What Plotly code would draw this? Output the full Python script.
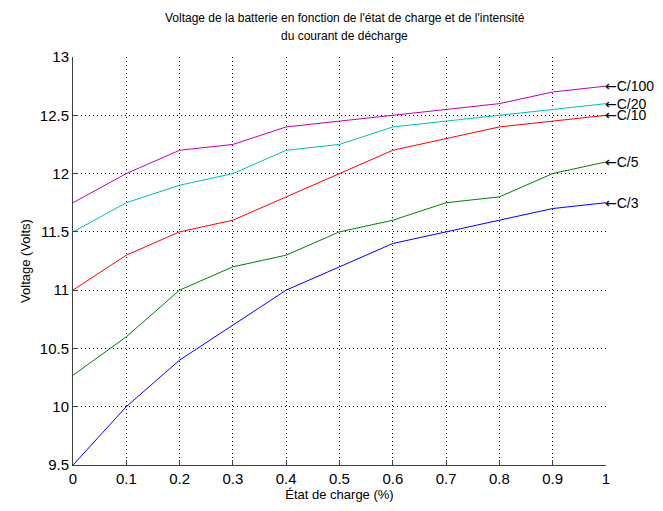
import plotly.graph_objects as go

soc = [0, 0.1, 0.2, 0.3, 0.4, 0.5, 0.6, 0.7, 0.8, 0.9, 1.0]
v_c3 = [9.5, 10.0, 10.4, 10.7, 11.0, 11.2, 11.4, 11.5, 11.6, 11.7, 11.75]
v_c5 = [10.27, 10.6, 11.0, 11.2, 11.3, 11.5, 11.6, 11.75, 11.8, 12.0, 12.1]
v_c10 = [11.0, 11.3, 11.5, 11.6, 11.8, 12.0, 12.2, 12.3, 12.4, 12.45, 12.5]
v_c20 = [11.5, 11.75, 11.9, 12.0, 12.2, 12.25, 12.4, 12.45, 12.5, 12.55, 12.6]
v_c100 = [11.75, 12.0, 12.2, 12.25, 12.4, 12.45, 12.5, 12.55, 12.6, 12.7, 12.75]

series = [
    ("C/3", v_c3, "#0000FF"),
    ("C/5", v_c5, "#008000"),
    ("C/10", v_c10, "#FF0000"),
    ("C/20", v_c20, "#00BFBF"),
    ("C/100", v_c100, "#BF00BF"),
]

x_ticks = [0, 0.1, 0.2, 0.3, 0.4, 0.5, 0.6, 0.7, 0.8, 0.9, 1]
x_tick_text = ["0", "0.1", "0.2", "0.3", "0.4", "0.5", "0.6", "0.7", "0.8", "0.9", "1"]
y_ticks = [9.5, 10, 10.5, 11, 11.5, 12, 12.5, 13]
y_tick_text = ["9.5", "10", "10.5", "11", "11.5", "12", "12.5", "13"]

title_lines = ["Voltage de la batterie en fonction de l'état de charge et de l'intensité",
               "du courant de décharge"]

FONT = "Liberation Sans, Arial, sans-serif"
AXC = "#404040"

fig = go.Figure()
for name, vals, col in series:
    fig.add_trace(go.Scatter(x=soc, y=vals, mode="lines", name=name,
                             line=dict(color=col, width=1), showlegend=False))
    fig.add_annotation(x=soc[-1], y=vals[-1], xref="x", yref="y",
                       text="<span style='font-family:DejaVu Sans'>\u2190</span>" + name,
                       showarrow=False, xanchor="left", yanchor="middle", xshift=-3,
                       font=dict(family=FONT, size=14, color="black"))

for i, line in enumerate(title_lines):
    fig.add_annotation(x=0.51, y=[1.095, 1.051][i], xref="paper", yref="paper",
                       text=line, showarrow=False, xanchor="center", yanchor="middle",
                       font=dict(family=FONT, size=12, color="black"))

grid = dict(showgrid=True, gridcolor="black", griddash="1px,3px", gridwidth=1,
            showline=True, linecolor=AXC, linewidth=1,
            ticks="inside", ticklen=5, tickcolor=AXC, zeroline=False,
            tickfont=dict(size=15))

fig.update_layout(
    width=663, height=511,
    margin=dict(l=73, r=57, t=57, b=44),
    paper_bgcolor="white", plot_bgcolor="white",
    font=dict(family=FONT, size=13, color="black"),
)
fig.update_xaxes(range=[0, 1], tickvals=x_ticks, ticktext=x_tick_text, **grid,
                 title=dict(text="État de charge (%)", font=dict(size=13), standoff=3))
fig.update_yaxes(range=[9.5, 13], tickvals=y_ticks, ticktext=y_tick_text, **grid,
                 title=dict(text="Voltage (Volts)", font=dict(size=13), standoff=6))

fig.write_html("out.html")
